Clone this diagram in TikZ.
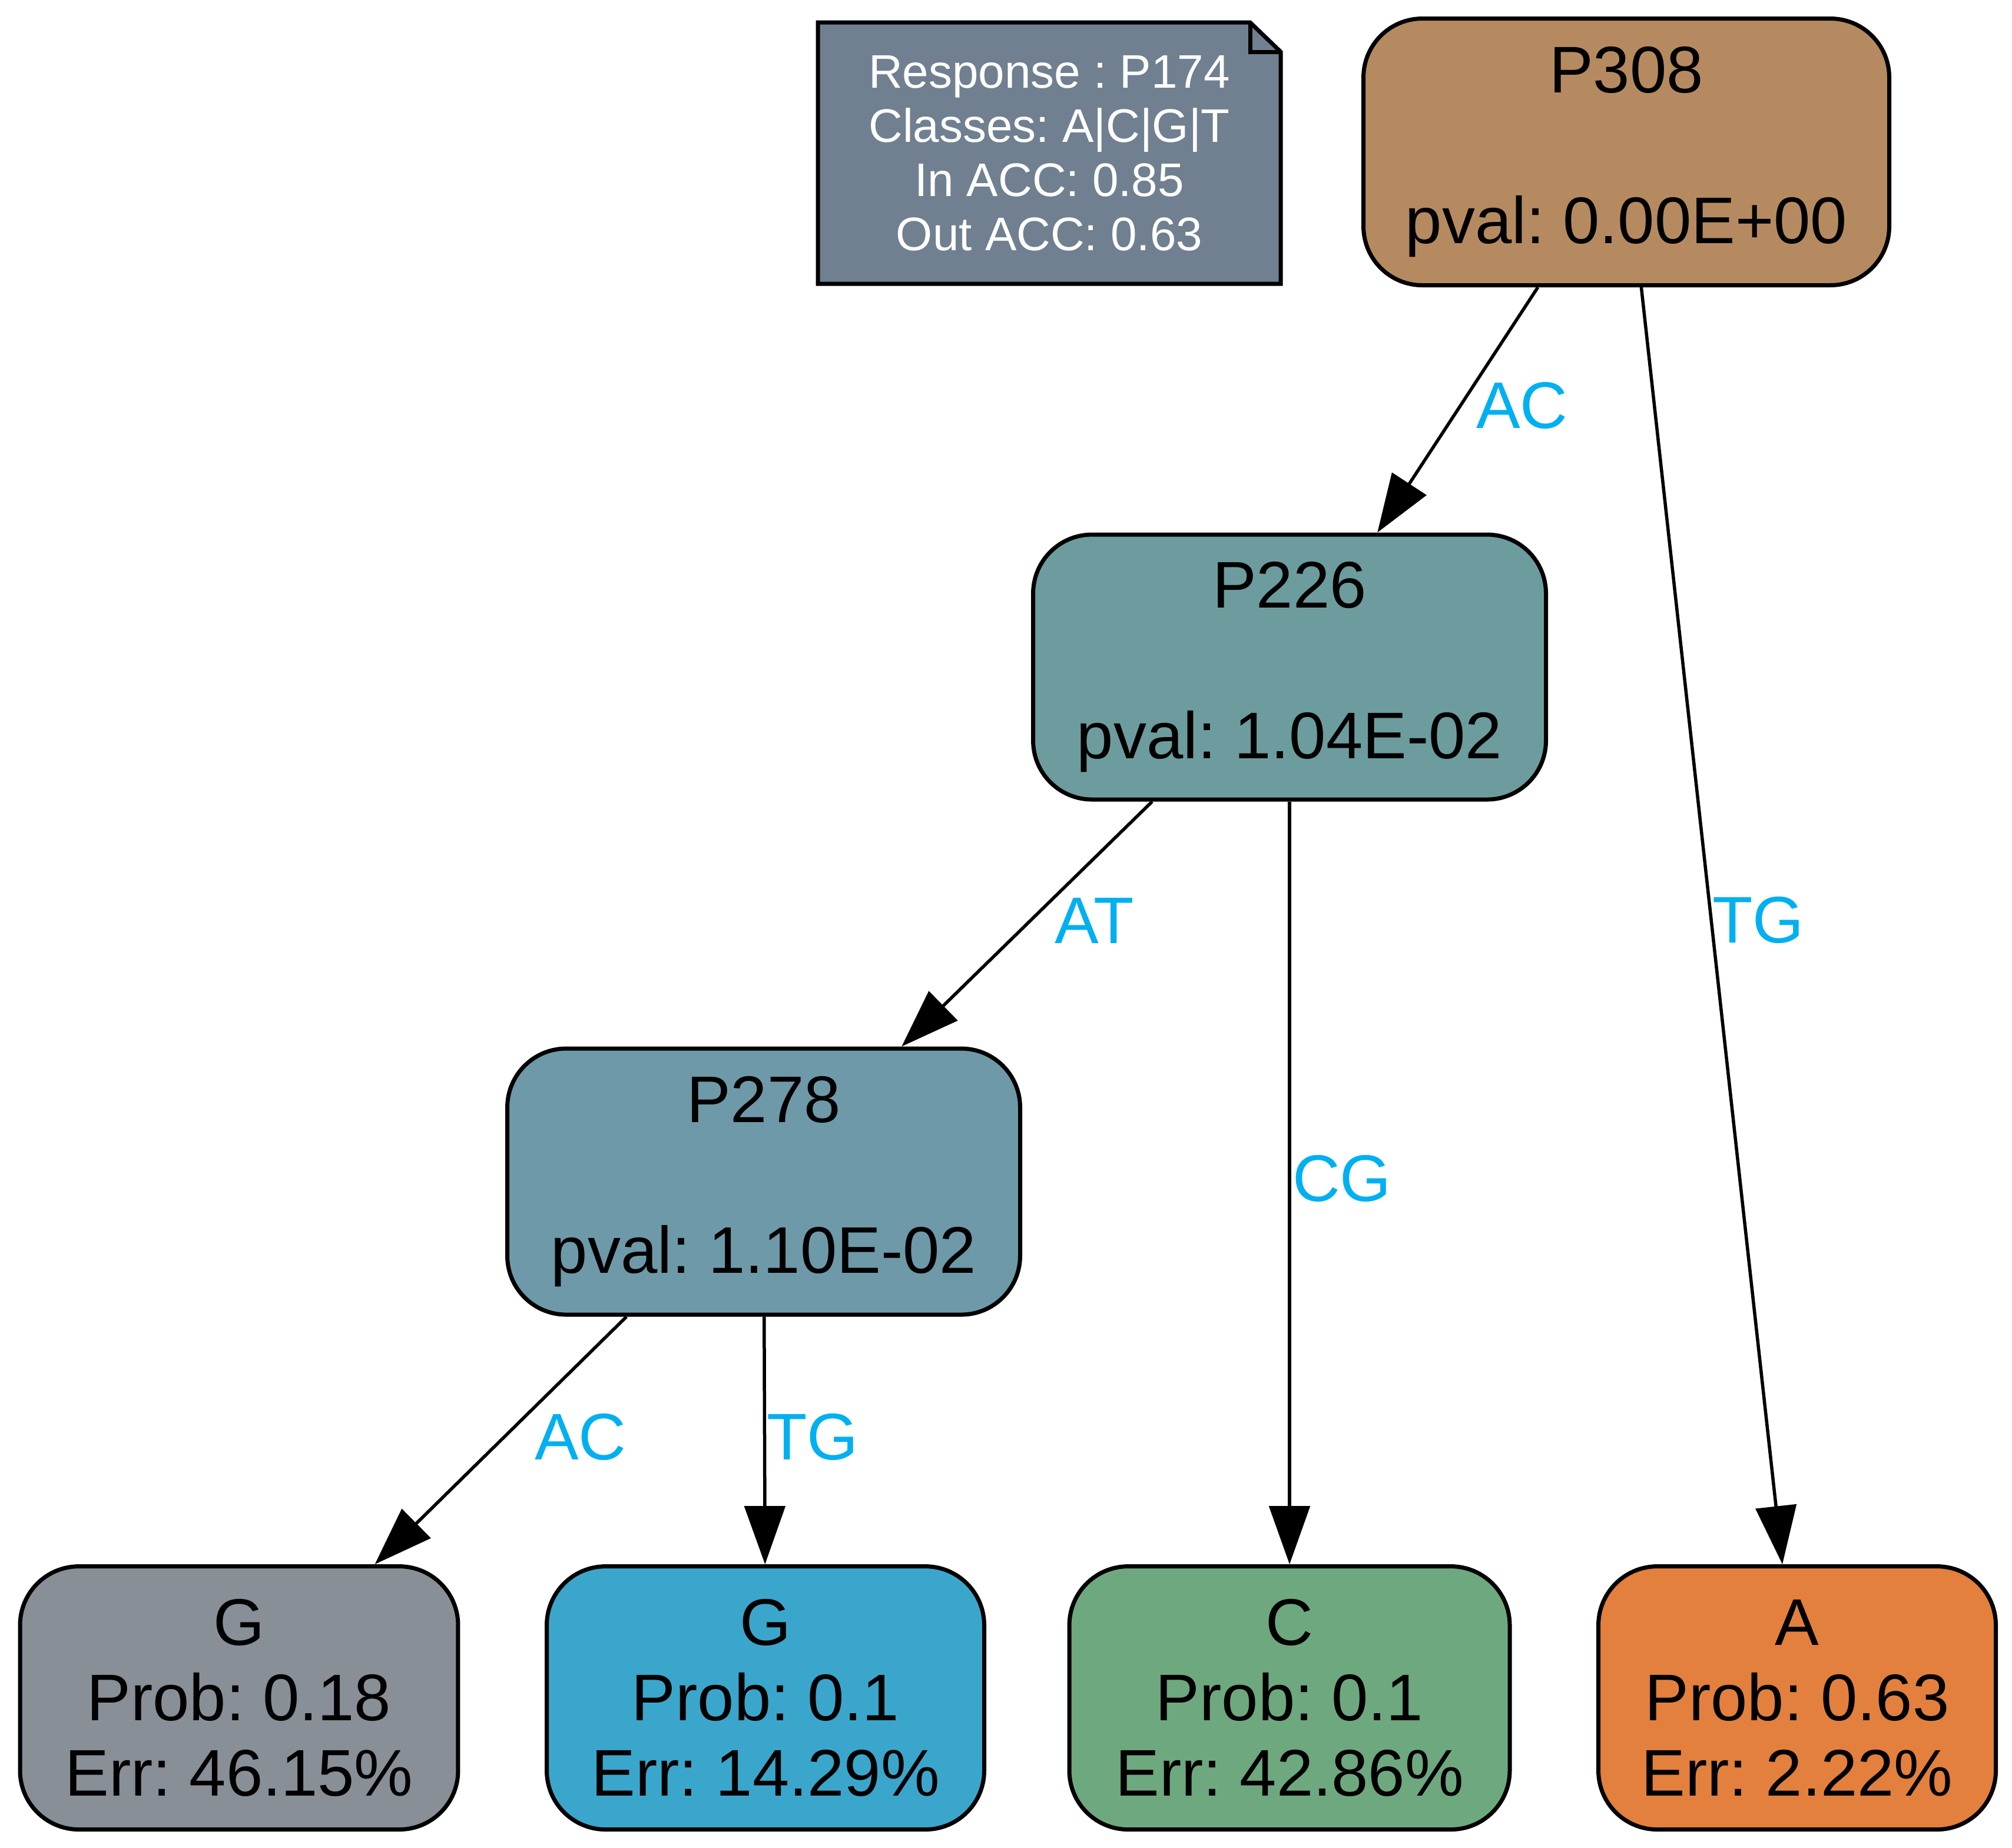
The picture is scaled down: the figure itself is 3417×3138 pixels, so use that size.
\documentclass[tikz,border=0pt]{standalone}
\usepackage{fontspec}
\setmainfont{Liberation Sans}
\usetikzlibrary{arrows.meta,calc}
\definecolor{cPa}{HTML}{B68A60}
\definecolor{cPb}{HTML}{6D9C9E}
\definecolor{cPc}{HTML}{6E99A8}
\definecolor{cGa}{HTML}{888F96}
\definecolor{cGb}{HTML}{3BA6CC}
\definecolor{cC}{HTML}{6EA87F}
\definecolor{cA}{HTML}{E3803D}
\definecolor{notegray}{HTML}{708090}
\definecolor{labelblue}{HTML}{00B0F0}
\pgfdeclarelayer{background}
\pgfsetlayers{background,main}
\frenchspacing
\begin{document}
\frenchspacing
\begin{tikzpicture}[x=0.1pt,y=-0.1pt,
  tree/.style={draw=black, line width=0.7pt, rounded corners=10pt, inner sep=0pt, align=center,
    font=\fontsize{11.2pt}{12.8pt}\selectfont\frenchspacing},
  innernode/.style={tree, minimum width=87.1pt, minimum height=45.2pt},
  leafnode/.style={tree, minimum height=44.7pt},
  conn/.style={draw=black, line width=0.55pt, -{Triangle[length=9.9pt,width=6.9pt]}},
  lbl/.style={text=labelblue, font=\fontsize{11.2pt}{12.8pt}\selectfont, inner sep=0pt, anchor=base west},
  notebox/.style={inner sep=0pt, align=center, text=white, minimum width=78.2pt, minimum height=44pt,
    font=\fontsize{8pt}{9.2pt}\selectfont\frenchspacing}]
\useasboundingbox (0,0) rectangle (3417,3138);

% note
\node[notebox] (note) at (1782,260) {Response : P174\\Classes: A|C|G|T\\In ACC: 0.85\\Out ACC: 0.63};
\begin{pgfonlayer}{background}
\filldraw[fill=notegray, draw=black, line width=0.7pt, line join=miter]
  (note.north west) -- ($(note.north east)+(-52,0)$) -- ($(note.north east)+(0,50)$)
  -- (note.south east) -- (note.south west) -- cycle;
\draw[line width=0.7pt] ($(note.north east)+(-52,0)$) -- ($(note.north east)+(-52,50)$) -- ($(note.north east)+(0,50)$);
\end{pgfonlayer}

% internal nodes
\node[innernode, fill=cPa, minimum width=89.3pt, minimum height=45.3pt] (p308) at (2762,258) {P308\\[12.8pt]pval: 0.00E+00};
\node[innernode, fill=cPb, minimum height=45.0pt] (p226) at (2190,1133) {P226\\[12.8pt]pval: 1.04E-02};
\node[innernode, fill=cPc] (p278) at (1297,2007) {P278\\[12.8pt]pval: 1.10E-02};

% leaves
\node[leafnode, fill=cGa, minimum width=74.4pt] (g1) at (406,2884) {G\\Prob: 0.18\\Err: 46.15\%};
\node[leafnode, fill=cGb, minimum width=74.3pt] (g2) at (1300,2884) {G\\Prob: 0.1\\Err: 14.29\%};
\node[leafnode, fill=cC, minimum width=74.8pt] (cl) at (2190,2884) {C\\Prob: 0.1\\Err: 42.86\%};
\node[leafnode, fill=cA, minimum width=67.5pt] (al) at (3052,2884) {A\\Prob: 0.63\\Err: 2.22\%};

% connectors
\draw[conn] (p308) -- (p226);
\draw[conn] (p308) -- (al);
\draw[conn] (p226) -- (p278);
\draw[conn] (p226) -- (cl);
\draw[conn] (p278) -- (g1);
\draw[conn] (p278) -- (g2);

% connector labels
\node[lbl] (lac1) at (2505,727) {AC};
\node[lbl] (ltg1) at (2906,1601) {TG};
\node[lbl] (lat) at (1789,1602) {AT};
\node[lbl] (lcg) at (2193,2040) {CG};
\node[lbl] (lac2) at (906,2479) {AC};
\node[lbl] (ltg2) at (1300,2479) {TG};
\end{tikzpicture}
\end{document}
